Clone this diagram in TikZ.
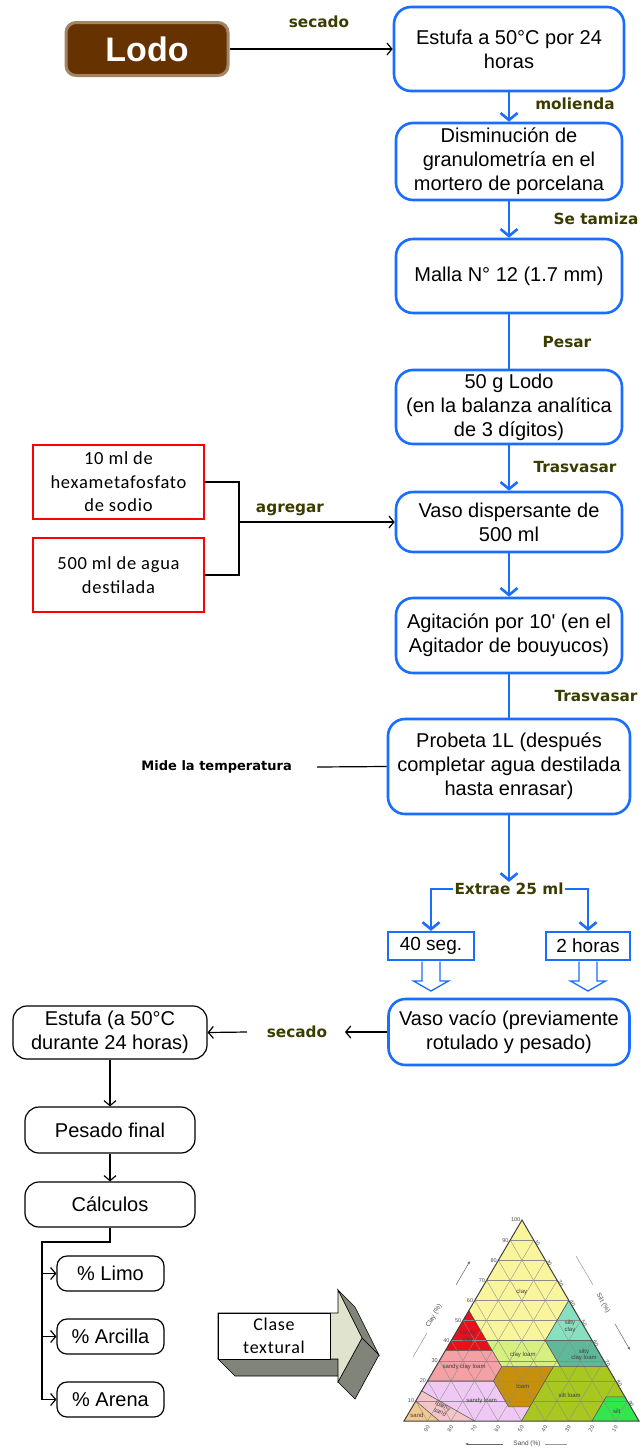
\documentclass[tikz,border=0pt]{standalone}
\usepackage{fontspec}
\setmainfont{Liberation Sans}[Ligatures=TeXOff]
\newfontfamily\lblfont{DejaVu Sans}
\newfontfamily\calib{Carlito}[LetterSpace=4]
\usetikzlibrary{arrows.meta,calc}
\definecolor{bluebox}{RGB}{26,110,255}
\definecolor{lbl}{RGB}{60,60,0}
\definecolor{lodoc}{RGB}{102,51,0}
\definecolor{facec}{RGB}{224,228,206}
\definecolor{sidec}{RGB}{128,132,121}
\definecolor{cClay}{RGB}{249,245,156}
\definecolor{cSClay}{RGB}{232,16,26}
\definecolor{cSiClay}{RGB}{136,224,192}
\definecolor{cSiCL}{RGB}{95,184,154}
\definecolor{cCL}{RGB}{214,240,128}
\definecolor{cSCL}{RGB}{244,160,164}
\definecolor{cLoam}{RGB}{200,144,10}
\definecolor{cSiL}{RGB}{168,200,32}
\definecolor{cSilt}{RGB}{51,230,77}
\definecolor{cSL}{RGB}{240,200,244}
\definecolor{cLS}{RGB}{244,196,200}
\definecolor{cSand}{RGB}{240,200,144}
\begin{document}
\begin{tikzpicture}[x=1pt,y=-1pt,
  bbox/.style={draw=bluebox, line width=2.6pt, rounded corners=17pt, fill=white, align=center, inner sep=0pt, font=\fontsize{20}{24}\selectfont},
  barrow/.style={draw=bluebox, line width=2.6pt, -{Straight Barb[length=7pt,width=17pt]}},
  bline/.style={draw=bluebox, line width=2.6pt},
  kbox/.style={draw=black, line width=1.2pt, rounded corners=14pt, fill=white, align=center, inner sep=0pt, font=\fontsize{20}{24}\selectfont},
  karrow/.style={draw=black, line width=1.2pt, -{Straight Barb[length=5pt,width=12pt]}},
  kline/.style={draw=black, line width=1.2pt},
  lbltxt/.style={font=\lblfont\bfseries\fontsize{15.3}{17}\selectfont, text=lbl, inner sep=1pt},
  rbox/.style={draw=red, line width=2.2pt, fill=white, align=center, inner sep=0pt, minimum width=171pt, minimum height=74pt, font=\calib\fontsize{18.5}{23.5}\selectfont},
  sbox/.style={draw=bluebox, line width=2.2pt, fill=white, inner sep=0pt, minimum height=28pt, font=\fontsize{19}{22}\selectfont},
  hollow/.style={draw=bluebox, line width=1.3pt, fill=white},
  pbox/.style={draw=black, line width=1.2pt, rounded corners=10pt, fill=white, inner sep=0pt, minimum width=107pt, minimum height=35pt, font=\fontsize{20}{24}\selectfont},
  tl/.style={font=\fontsize{6}{6.5}\selectfont, text=black!75, align=center, inner sep=0pt},
  tk/.style={font=\fontsize{5.5}{6}\selectfont, text=black!70, inner sep=0pt},
  grid/.style={draw=black!45, line width=0.35pt},
  rb/.style={draw=black!70, line width=0.5pt}
]
\fill[white] (0,0) rectangle (641,1448);
\useasboundingbox (0,0) rectangle (641,1448);

% ---------- top: Lodo ----------
\node[fill=lodoc, draw=lodoc!60, line width=3pt, rounded corners=10pt, minimum width=162pt, minimum height=53pt, inner sep=0pt, text=white, font=\bfseries\fontsize{34}{36}\selectfont] (lodo) at (147,49) {Lodo};

% ---------- blue main column ----------
\node[bbox, minimum width=230pt, minimum height=84pt] (b1) at (509,49) {Estufa a 50°C por 24\\horas};
\node[bbox, minimum width=226pt, minimum height=77pt] (b2) at (509,161.5) {Disminución de\\granulometría en el\\mortero de porcelana};
\node[bbox, minimum width=226pt, minimum height=74pt] (b3) at (509,276) {Malla N° 12 (1.7 mm)};
\node[bbox, minimum width=226pt, minimum height=74pt] (b4) at (509,407) {50 g Lodo\\(en la balanza analítica\\de 3 dígitos)};
\node[bbox, minimum width=226pt, minimum height=60pt] (b5) at (509,522) {Vaso dispersante de\\500 ml};
\node[bbox, minimum width=226pt, minimum height=75pt] (b6) at (509,635.5) {Agitación por 10' (en el\\Agitador de bouyucos)};
\node[bbox, minimum width=242pt, minimum height=95pt] (b7) at (509,766.5) {Probeta 1L (después\\completar agua destilada\\hasta enrasar)};
\node[bbox, minimum width=241pt, minimum height=66pt] (b8) at (509,1032) {Vaso vacío (previamente\\rotulado y pesado)};

% labels
\node[lbltxt] (l1) at (319,22) {secado};
\node[lbltxt] (l2) at (575,104) {molienda};
\node[lbltxt] (l3) at (596,219) {Se tamiza};
\node[lbltxt] (l4) at (567,342) {Pesar};
\node[lbltxt] (l5) at (575,467) {Trasvasar};
\node[lbltxt] (l6) at (596,696) {Trasvasar};
\node[lbltxt] (ag) at (290,510) {agregar};
\node[lbltxt, text=black, font=\lblfont\bfseries\fontsize{13}{15}\selectfont, anchor=east] (mide) at (293,767) {Mide la temperatura};

\draw[karrow] (lodo.east) -- (b1.west);
\draw[barrow] (b1.south) -- (b2.north);
\draw[barrow] (b2.south) -- (b3.north);
\draw[bline] (b3.south) -- (b4.north);
\draw[barrow] (b4.south) -- (b5.north);
\draw[barrow] (b5.south) -- (b6.north);
\draw[bline] (b6.south) -- (b7.north);

% red boxes
\node[rbox] (rA) at (118.5,482) {10 ml de\\hexametafosfato\\de sodio};
\node[rbox] (rB) at (118.5,575) {500 ml de agua\\destilada};
\coordinate (jn) at (239,522);
\draw[kline] (rA.east) -| (jn);
\draw[kline] (rB.east) -| (jn);
\draw[karrow] (jn) -- (b5.west);

% mide
\coordinate (mend) at (317,767);
\draw[kline] (mend) -- (b7.west);

% extrae fork
\node[lbltxt] (ex) at (509,889) {Extrae 25 ml};
\draw[barrow] (b7.south) -- (ex.north);
\node[sbox, minimum width=86pt] (s40) at (431,946) {40 seg.};
\node[sbox, minimum width=84pt] (s2h) at (588,946) {2 horas};
\draw[barrow] (ex.west) -| (s40.north);
\draw[barrow] (ex.east) -| (s2h.north);

% hollow arrows
\draw[hollow] (422,961.5) -- (422,981) -- (413.5,981) -- (431,991) -- (448.5,981) -- (440,981) -- (440,961.5);
\draw[hollow] (579,961.5) -- (579,981) -- (570.5,981) -- (588,991) -- (605.5,981) -- (597,981) -- (597,961.5);

% ---------- bottom left ----------
\node[lbltxt] (l7) at (297,1032) {secado};
\coordinate (s2a) at (345,1032);
\coordinate (s2b) at (247,1032);
\node[kbox, minimum width=194pt, minimum height=53pt] (e2) at (110,1032.5) {Estufa (a 50°C\\durante 24 horas)};
\node[kbox, minimum width=170pt, minimum height=46pt] (pf) at (110,1130) {Pesado final};
\node[kbox, minimum width=170pt, minimum height=45pt] (cal) at (110,1204.5) {Cálculos};
\draw[karrow] (b8.west) -- (s2a);
\draw[karrow] (s2b) -- (e2.east);
\draw[karrow] (e2.south) -- (pf.north);
\draw[karrow] (pf.south) -- (cal.north);

\node[pbox] (limo) at (110.5,1273.5) {\% Limo};
\node[pbox] (arc) at (110.5,1336.5) {\% Arcilla};
\node[pbox] (are) at (110.5,1399.5) {\% Arena};
\coordinate (tr1) at (42,1242);
\coordinate (tr2) at (42,1399.5);
\draw[draw=black, line width=1.5pt] (cal.south) |- (tr1) -- (tr2);
\draw[karrow] (tr1 |- limo.west) -- (limo.west);
\draw[karrow] (tr1 |- arc.west) -- (arc.west);
\draw[karrow] (tr2) -- (are.west);

% ---------- 3D block arrow ----------
\filldraw[fill=sidec, draw=black, line width=0.6pt] (218,1359) -- (338,1359) -- (355,1376) -- (235,1376) -- cycle;
\filldraw[fill=sidec, draw=black, line width=0.6pt] (338,1290) -- (362,1338) -- (379,1355) -- (355,1307) -- cycle;
\filldraw[fill=sidec, draw=black, line width=0.6pt] (362,1338) -- (338,1382) -- (355,1399) -- (379,1355) -- cycle;
\filldraw[fill=facec, draw=black, line width=0.6pt] (218,1313) -- (338,1313) -- (338,1290) -- (362,1338) -- (338,1382) -- (338,1359) -- (218,1359) -- cycle;
\node[draw=black, line width=0.8pt, fill=white, minimum width=112pt, minimum height=46pt, inner sep=0pt, align=center, font=\calib\fontsize{18}{23}\selectfont] (clase) at (274,1336) {Clase\\textural};

% ---------- texture triangle ----------
\coordinate (T) at (522,1220);
\coordinate (L) at (404,1421);
\coordinate (R) at (639,1421);
% regions
\fill[cClay] (barycentric cs:T=1,L=0,R=0) -- (barycentric cs:T=.6,L=0,R=.4) -- (barycentric cs:T=.4,L=.2,R=.4) -- (barycentric cs:T=.4,L=.45,R=.15) -- (barycentric cs:T=.55,L=.45,R=0) -- cycle;
\fill[cSClay] (barycentric cs:T=.55,L=.45,R=0) -- (barycentric cs:T=.35,L=.45,R=.2) -- (barycentric cs:T=.35,L=.65,R=0) -- cycle;
\fill[cSiClay] (barycentric cs:T=.6,L=0,R=.4) -- (barycentric cs:T=.4,L=0,R=.6) -- (barycentric cs:T=.4,L=.2,R=.4) -- cycle;
\fill[cSiCL] (barycentric cs:T=.4,L=0,R=.6) -- (barycentric cs:T=.27,L=0,R=.73) -- (barycentric cs:T=.27,L=.2,R=.53) -- (barycentric cs:T=.4,L=.2,R=.4) -- cycle;
\fill[cCL] (barycentric cs:T=.4,L=.2,R=.4) -- (barycentric cs:T=.27,L=.2,R=.53) -- (barycentric cs:T=.27,L=.45,R=.28) -- (barycentric cs:T=.4,L=.45,R=.15) -- cycle;
\fill[cSCL] (barycentric cs:T=.35,L=.45,R=.2) -- (barycentric cs:T=.27,L=.45,R=.28) -- (barycentric cs:T=.2,L=.52,R=.28) -- (barycentric cs:T=.2,L=.8,R=0) -- (barycentric cs:T=.35,L=.65,R=0) -- cycle;
\fill[cLoam] (barycentric cs:T=.27,L=.45,R=.28) -- (barycentric cs:T=.27,L=.23,R=.5) -- (barycentric cs:T=.07,L=.43,R=.5) -- (barycentric cs:T=.07,L=.52,R=.41) -- (barycentric cs:T=.2,L=.52,R=.28) -- cycle;
\fill[cSiL] (barycentric cs:T=.27,L=.23,R=.5) -- (barycentric cs:T=.27,L=0,R=.73) -- (barycentric cs:T=.12,L=0,R=.88) -- (barycentric cs:T=.12,L=.08,R=.8) -- (barycentric cs:T=0,L=.2,R=.8) -- (barycentric cs:T=0,L=.5,R=.5) -- cycle;
\fill[cSilt] (barycentric cs:T=.12,L=0,R=.88) -- (barycentric cs:T=0,L=0,R=1) -- (barycentric cs:T=0,L=.2,R=.8) -- (barycentric cs:T=.12,L=.08,R=.8) -- cycle;
\fill[cSL] (barycentric cs:T=.2,L=.52,R=.28) -- (barycentric cs:T=.07,L=.52,R=.41) -- (barycentric cs:T=.07,L=.43,R=.5) -- (barycentric cs:T=0,L=.5,R=.5) -- (barycentric cs:T=0,L=.7,R=.3) -- (barycentric cs:T=.15,L=.85,R=0) -- (barycentric cs:T=.2,L=.8,R=0) -- cycle;
\fill[cLS] (barycentric cs:T=.15,L=.85,R=0) -- (barycentric cs:T=0,L=.7,R=.3) -- (barycentric cs:T=0,L=.85,R=.15) -- (barycentric cs:T=.1,L=.9,R=0) -- cycle;
\fill[cSand] (barycentric cs:T=.1,L=.9,R=0) -- (barycentric cs:T=0,L=.85,R=.15) -- (barycentric cs:T=0,L=1,R=0) -- cycle;
% grid
\foreach \k in {1,...,9} {
  \pgfmathsetmacro\a{\k/10}
  \pgfmathsetmacro\m{1-\k/10}
  \draw[grid] (barycentric cs:T=\a,L=\m,R=0) -- (barycentric cs:T=\a,L=0,R=\m);
  \draw[grid] (barycentric cs:T=0,L=\a,R=\m) -- (barycentric cs:T=\m,L=\a,R=0);
  \draw[grid] (barycentric cs:T=0,L=\m,R=\a) -- (barycentric cs:T=\m,L=0,R=\a);
}
% region borders
\draw[rb] (barycentric cs:T=.6,L=0,R=.4) -- (barycentric cs:T=.4,L=.2,R=.4) -- (barycentric cs:T=.4,L=.45,R=.15) -- (barycentric cs:T=.55,L=.45,R=0);
\draw[rb] (barycentric cs:T=.4,L=0,R=.6) -- (barycentric cs:T=.4,L=.2,R=.4) -- (barycentric cs:T=.27,L=.2,R=.53);
\draw[rb] (barycentric cs:T=.27,L=0,R=.73) -- (barycentric cs:T=.27,L=.45,R=.28) -- (barycentric cs:T=.35,L=.45,R=.2) -- (barycentric cs:T=.35,L=.65,R=0);
\draw[rb] (barycentric cs:T=.4,L=.45,R=.15) -- (barycentric cs:T=.35,L=.45,R=.2);
\draw[rb] (barycentric cs:T=.27,L=.45,R=.28) -- (barycentric cs:T=.2,L=.52,R=.28) -- (barycentric cs:T=.2,L=.8,R=0);
\draw[rb] (barycentric cs:T=.2,L=.52,R=.28) -- (barycentric cs:T=.07,L=.52,R=.41) -- (barycentric cs:T=.07,L=.43,R=.5);
\draw[rb] (barycentric cs:T=.27,L=.23,R=.5) -- (barycentric cs:T=0,L=.5,R=.5);
\draw[rb] (barycentric cs:T=.12,L=0,R=.88) -- (barycentric cs:T=.12,L=.08,R=.8) -- (barycentric cs:T=0,L=.2,R=.8);
\draw[rb] (barycentric cs:T=.15,L=.85,R=0) -- (barycentric cs:T=0,L=.7,R=.3);
\draw[rb] (barycentric cs:T=.1,L=.9,R=0) -- (barycentric cs:T=0,L=.85,R=.15);
\draw[draw=black!75, line width=1pt] (T) -- (L) -- (R) -- cycle;
% region labels
\node[tl] (tcl) at (barycentric cs:T=.64,L=.18,R=.18) {clay};
\node[tl] (tsc) at (barycentric cs:T=.42,L=.52,R=.06) {sandy\\clay};
\node[tl] (tsic) at (barycentric cs:T=.47,L=.06,R=.47) {silty\\clay};
\node[tl] (tsicl) at (barycentric cs:T=.33,L=.07,R=.6) {silty\\clay loam};
\node[tl] (tcll) at (barycentric cs:T=.33,L=.33,R=.34) {clay loam};
\node[tl] (tscl) at (barycentric cs:T=.27,L=.61,R=.12) {sandy clay loam};
\node[tl] (tlo) at (barycentric cs:T=.17,L=.41,R=.42) {loam};
\node[tl] (tsil) at (barycentric cs:T=.13,L=.23,R=.64) {silt loam};
\node[tl] (tsi) at (barycentric cs:T=.05,L=.07,R=.88) {silt};
\node[tl] (tsl) at (barycentric cs:T=.1,L=.62,R=.28) {sandy loam};
\node[tl, rotate=-25] (tls) at (barycentric cs:T=.06,L=.81,R=.13) {loamy\\sand};
\node[tl] (tsa) at (barycentric cs:T=.03,L=.93,R=.04) {sand};
% ticks
\foreach \k in {1,...,10} {
  \pgfmathsetmacro\a{\k/10}
  \pgfmathsetmacro\m{1-\k/10}
  \pgfmathtruncatemacro\n{10*\k}
  \node[tk, anchor=east] (ck\k) at ($(barycentric cs:T=\a,L=\m,R=0)+(-1.5,0)$) {\n};
}
\foreach \k in {1,...,9} {
  \pgfmathsetmacro\a{\k/10}
  \pgfmathsetmacro\m{1-\k/10}
  \pgfmathtruncatemacro\n{10*\k}
  \node[tk, anchor=west, rotate=-60] (sk\k) at ($(barycentric cs:T=\m,L=0,R=\a)+(2,0)$) {\n};
  \node[tk, anchor=east, rotate=60] (dk\k) at ($(barycentric cs:T=0,L=\a,R=\m)+(1,5)$) {\n};
}
\node[tk, rotate=60, font=\fontsize{6.5}{7}\selectfont] (clayax) at (434,1316) {Clay (\%)};
\coordinate (ca1) at (456,1285); \coordinate (ca2) at (470,1261);
\coordinate (ca3) at (413,1357); \coordinate (ca4) at (427,1333);
\draw[black!60, line width=0.5pt, -{Latex[length=3pt,width=2.5pt]}] (ca1) -- (ca2);
\draw[black!40, line width=0.5pt] (ca3) -- (ca4);
\node[tk, rotate=-60, font=\fontsize{6.5}{7}\selectfont] (siltax) at (603,1303) {Silt (\%)};
\coordinate (sa1) at (576,1256); \coordinate (sa2) at (593,1285);
\coordinate (sa3) at (615,1324); \coordinate (sa4) at (630,1350);
\draw[black!40, line width=0.5pt] (sa1) -- (sa2);
\draw[black!60, line width=0.5pt, -{Latex[length=3pt,width=2.5pt]}] (sa3) -- (sa4);
\node[tk, font=\fontsize{6.5}{7}\selectfont] (sandax) at (527,1444) {Sand (\%)};
\coordinate (da1) at (503,1444); \coordinate (da2) at (465,1444);
\coordinate (da3) at (545,1444); \coordinate (da4) at (567,1444);
\draw[black!60, line width=0.5pt, -{Latex[length=3pt,width=2.5pt]}] (da1) -- (da2);
\draw[black!40, line width=0.5pt] (da3) -- (da4);
\end{tikzpicture}
\end{document}
